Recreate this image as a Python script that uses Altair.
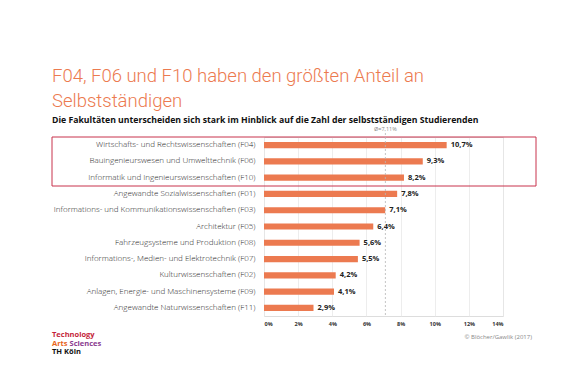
import altair as alt
import pandas as pd

faculties = [
    "Wirtschafts- und Rechtswissenschaften (F04)",
    "Bauingenieurswesen und Umwelttechnik (F06)",
    "Informatik und Ingenieurswissenschaften (F10)",
    "Angewandte Sozialwissenschaften (F01)",
    "Informations- und Kommunikationswissenschaften (F03)",
    "Architektur (F05)",
    "Fahrzeugsysteme und Produktion (F08)",
    "Informations-, Medien- und Elektrotechnik (F07)",
    "Kulturwissenschaften (F02)",
    "Anlagen, Energie- und Maschinensysteme (F09)",
    "Angewandte Naturwissenschaften (F11)",
]
shares = [10.7, 9.3, 8.2, 7.8, 7.1, 6.4, 5.6, 5.5, 4.2, 4.1, 2.9]
mean_share = 7.11
x_ticks = [0, 2, 4, 6, 8, 10, 12, 14]

df = pd.DataFrame({"fak": faculties, "v": shares})

W, H = 239, 179
FONT = "Open Sans"
ORANGE = "#ec7a50"

y_axis = alt.Axis(labelFont=FONT, labelFontSize=8, labelFontWeight=300,
                  labelColor="#2a2a2a", labelPadding=9, ticks=False,
                  domain=False, labelLimit=300)
y_scale = alt.Scale(paddingInner=0.62, paddingOuter=0.31)
x_axis = alt.Axis(values=x_ticks, labelExpr="datum.value + '%'",
                  labelFont=FONT, labelFontSize=5.5, labelFontWeight="bold",
                  labelColor="#333", ticks=False, domain=False,
                  grid=True, gridColor="#e8e8e8", gridWidth=0.8,
                  labelPadding=5, labelOverlap=False)
x_scale = alt.Scale(domain=[0, 14], nice=False)


def xe(field):
    return alt.X(field, title=None, scale=x_scale, axis=x_axis)


ye = alt.Y("fak:N", sort=faculties, title=None, scale=y_scale, axis=y_axis)

base = alt.Chart(df)

bars = base.mark_bar(color=ORANGE).encode(x=xe("v:Q"), y=ye)

labels = base.transform_calculate(
    lab="replace(format(datum.v, '.1f'), '.', ',') + '%'"
).mark_text(align="left", baseline="middle", dx=4, font=FONT, fontSize=7.5,
            fontWeight="bold", color="#222").encode(
    x=xe("v:Q"), y=ye, text="lab:N")

mean_df = pd.DataFrame({"m": [mean_share]})
mean_rule = alt.Chart(mean_df).mark_rule(color="#b5b5b5", strokeDash=[2, 2],
                                         strokeWidth=0.8).encode(
    x=xe("m:Q"), y=alt.value(-4), y2=alt.value(H))
mean_text = alt.Chart(mean_df).transform_calculate(
    lab="'Ø=' + replace(format(datum.m, '.2f'), '.', ',') + '%'"
).mark_text(font=FONT, fontSize=5.5, color="#888", baseline="alphabetic").encode(
    x=xe("m:Q"), y=alt.value(-6), text="lab:N")

box_df = pd.DataFrame({"a": [0]})
box = alt.Chart(box_df).mark_rect(fill=None, stroke="#c8334d", strokeWidth=1).encode(
    x=alt.value(-212), x2=alt.value(272), y=alt.value(0), y2=alt.value(49))

texts = [
    ("F04, F06 und F10 haben den größten Anteil an", -212, -55, 18.5, 300, ORANGE, "left", "Roboto"),
    ("Selbstständigen", -212, -30, 18.5, 300, ORANGE, "left", "Roboto"),
    ("Die Fakultäten unterscheiden sich stark im Hinblick auf die Zahl der selbstständigen Studierenden",
     -212, -14, 8.7, "bold", "#111", "left", FONT),
    ("Technology", -212, 200, 7.5, "bold", "#c41e3a", "left", FONT),
    ("Arts", -212, 208.5, 7.5, "bold", "#e8641b", "left", FONT),
    ("Sciences", -194.5, 208.5, 7.5, "bold", "#8a3a8f", "left", FONT),
    ("TH Köln", -212, 217, 7.5, "bold", "#111", "left", FONT),
    ("© Blöcher/Gawlik (2017)", 268, 202, 6, "normal", "#888", "right", FONT),
]
layers = [box, bars, labels, mean_rule, mean_text]
for t, x, y, s, w, c, a, f in texts:
    layers.append(alt.Chart(box_df).mark_text(text=t, font=f, fontSize=s, fontWeight=w,
                                              color=c, align=a, baseline="alphabetic").encode(
        x=alt.value(x), y=alt.value(y)))

chart = alt.layer(*layers).properties(
    width=W, height=H,
    autosize=alt.AutoSizeParams(type="none"),
    padding={"left": 256, "top": 129, "right": 77, "bottom": 68},
).configure_view(stroke=None).configure(background="white")

chart.save("out.html", embed_options={"renderer": "svg", "actions": False})
